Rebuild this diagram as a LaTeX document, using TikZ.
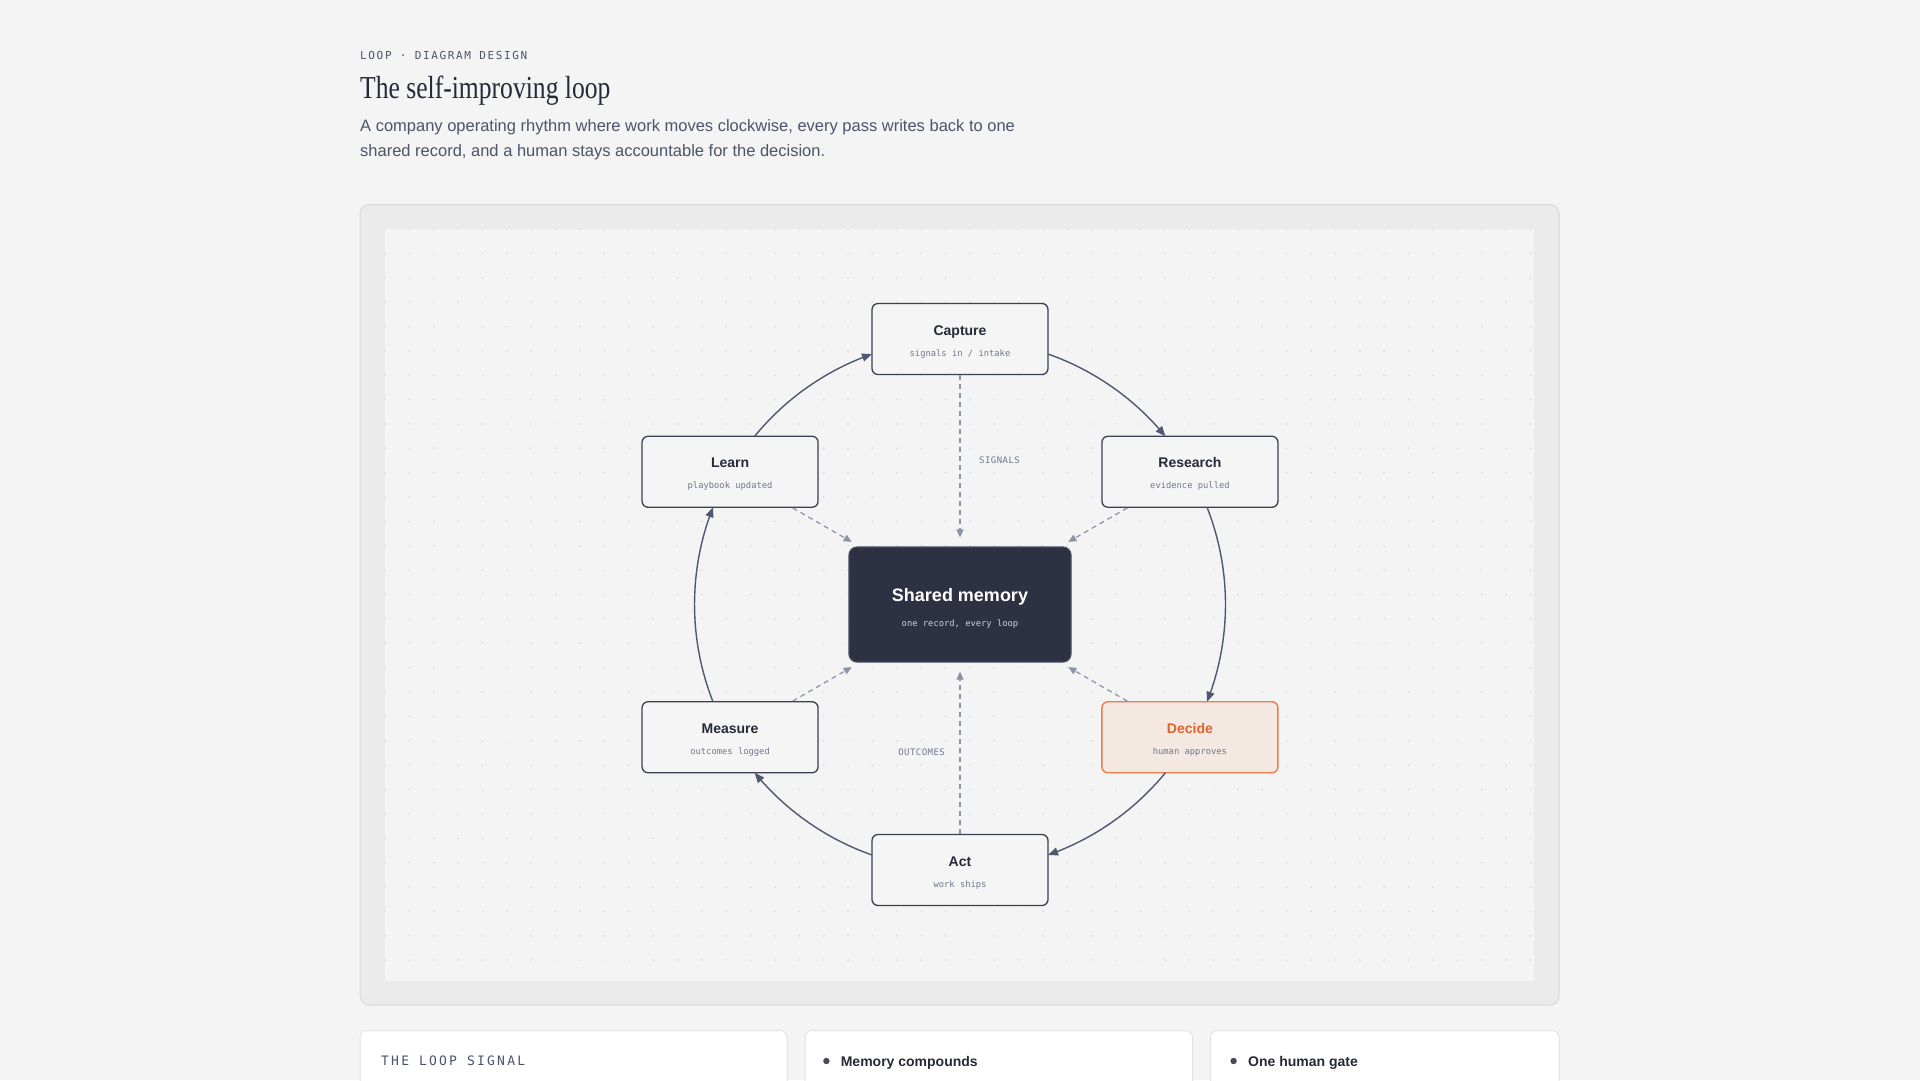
\documentclass[tikz,border=0pt]{standalone}
\usepackage{fontspec}
\setmainfont{Liberation Sans}
\newfontfamily\monof{DejaVu Sans Mono}
\newfontfamily\monokick[LetterSpace=15]{DejaVu Sans Mono}
\newfontfamily\monowide[LetterSpace=17]{DejaVu Sans Mono}
\newfontfamily\monolab[LetterSpace=5]{DejaVu Sans Mono}
\newfontfamily\serift[FakeStretch=0.8]{Liberation Serif}
\usetikzlibrary{arrows.meta,bending}
\definecolor{pagebg}{HTML}{F4F4F4}
\definecolor{panelc}{HTML}{EBEBEB}
\definecolor{panelline}{HTML}{D9D9D9}
\definecolor{innerc}{HTML}{F4F4F4}
\definecolor{dotc}{HTML}{E0E0E3}
\definecolor{ink}{HTML}{262A38}
\definecolor{slate}{HTML}{4B5468}
\definecolor{subc}{HTML}{6E778C}
\definecolor{boxline}{HTML}{3B4050}
\definecolor{boxfill}{HTML}{F5F5F6}
\definecolor{flowc}{HTML}{4E5870}
\definecolor{spokec}{HTML}{8A92A5}
\definecolor{memfill}{HTML}{2E3142}
\definecolor{memline}{HTML}{474C5E}
\definecolor{memsub}{HTML}{CDD0DA}
\definecolor{decfill}{HTML}{F4E8E2}
\definecolor{decline}{HTML}{EE7B4A}
\definecolor{dectext}{HTML}{E5622B}
\definecolor{cardline}{HTML}{E3E3E3}
\begin{document}
\begin{tikzpicture}[x=1pt,y=-1pt,
  box/.style={draw=boxline, line width=1.3pt, fill=boxfill, rounded corners=6pt,
    minimum width=176pt, minimum height=71pt, inner sep=0pt},
  ttl/.style={anchor=base, inner sep=0pt, text=ink,
    font=\fontsize{14}{16}\selectfont\bfseries},
  sub/.style={anchor=base, inner sep=0pt, text=subc,
    font=\monof\fontsize{8.8}{10}\selectfont},
  flow/.style={draw=flowc, line width=1.4pt, -{Triangle[length=10pt,width=8pt]}},
  spoke/.style={draw=spokec, line width=1.2pt, dash pattern=on 5pt off 4pt,
    -{Triangle[length=8pt,width=7pt]}, shorten >=9pt},
  lab/.style={inner sep=0pt, text=subc, font=\monolab\fontsize{9}{10}\selectfont},
  card/.style={draw=cardline, fill=white, line width=1pt, rounded corners=7pt},
  bullet/.style={circle, fill=ink!85, inner sep=0pt, minimum size=6.4pt},
]
\useasboundingbox (0,0) rectangle (1920,1080);
\fill[pagebg] (0,0) rectangle (1920,1080);

% header
\node[anchor=base west, inner sep=0pt, text=slate, font=\monokick\fontsize{11}{12}\selectfont]
  (kicker) at (360,59) {LOOP · DIAGRAM DESIGN};
\node[anchor=base west, inner sep=0pt, text=ink, font=\serift\fontsize{32}{36}\selectfont]
  (title) at (360,98) {The self-improving loop};
\node[anchor=base west, inner sep=0pt, text=slate, font=\fontsize{16.5}{18}\selectfont]
  (desc1) at (360,131.5) {A company operating rhythm where work moves clockwise, every pass writes back to one};
\node[anchor=base west, inner sep=0pt, text=slate, font=\fontsize{16.5}{18}\selectfont]
  (desc2) at (360,156.5) {shared record, and a human stays accountable for the decision.};

% panel
\draw[fill=panelc, draw=panelline, line width=1pt, rounded corners=9pt]
  (360,204.5) rectangle (1559,1005);
\fill[innerc] (385,229) rectangle (1534,981);
\foreach \i in {0,...,47}{
  \foreach \j in {0,...,30}{
    \fill[dotc] (385+24.37*\i, 229+24.37*\j) circle[radius=1.1];
  }
}

% hub
\node[draw=memline, line width=1.2pt, fill=memfill, rounded corners=8pt,
  minimum width=222pt, minimum height=115pt, inner sep=0pt] (mem) at (960,604.5) {};
\node[anchor=base, inner sep=0pt, text=white, font=\fontsize{18}{20}\selectfont\bfseries]
  (mem-t) at ([yshift=2.8pt]mem.center) {Shared memory};
\node[anchor=base, inner sep=0pt, text=memsub, font=\monof\fontsize{8.8}{10}\selectfont]
  (mem-s) at ([yshift=-22pt]mem.center) {one record, every loop};

% stage boxes
\node[box] (capture)  at ([shift={(-90:265.5)}]mem.center) {};
\node[box] (research) at ([shift={(-30:265.5)}]mem.center) {};
\node[box, draw=decline, fill=decfill, line width=1.4pt] (decide) at ([shift={(30:265.5)}]mem.center) {};
\node[box] (act)      at ([shift={(90:265.5)}]mem.center) {};
\node[box] (measure)  at ([shift={(150:265.5)}]mem.center) {};
\node[box] (learn)    at ([shift={(210:265.5)}]mem.center) {};

\node[ttl] (capture-t) at ([yshift=3.8pt]capture.center) {Capture};
\node[sub] (capture-s) at ([yshift=-17.2pt]capture.center) {signals in / intake};
\node[ttl] (research-t) at ([yshift=3.8pt]research.center) {Research};
\node[sub] (research-s) at ([yshift=-17.2pt]research.center) {evidence pulled};
\node[ttl, text=dectext] (decide-t) at ([yshift=3.8pt]decide.center) {Decide};
\node[sub] (decide-s) at ([yshift=-17.2pt]decide.center) {human approves};
\node[ttl] (act-t) at ([yshift=3.8pt]act.center) {Act};
\node[sub] (act-s) at ([yshift=-17.2pt]act.center) {work ships};
\node[ttl] (measure-t) at ([yshift=3.8pt]measure.center) {Measure};
\node[sub] (measure-s) at ([yshift=-17.2pt]measure.center) {outcomes logged};
\node[ttl] (learn-t) at ([yshift=3.8pt]learn.center) {Learn};
\node[sub] (learn-s) at ([yshift=-17.2pt]learn.center) {playbook updated};

% clockwise loop (arcs on the ring through the stage centres)
\draw[flow] ([shift={(-70.64:265.5)}]mem.center) arc[start angle=-70.64, end angle=-39.32, radius=265.5];
\draw[flow] ([shift={(-21.49:265.5)}]mem.center) arc[start angle=-21.49, end angle=21.49, radius=265.5];
\draw[flow] ([shift={(39.32:265.5)}]mem.center) arc[start angle=39.32, end angle=70.64, radius=265.5];
\draw[flow] ([shift={(109.36:265.5)}]mem.center) arc[start angle=109.36, end angle=140.68, radius=265.5];
\draw[flow] ([shift={(158.51:265.5)}]mem.center) arc[start angle=158.51, end angle=201.49, radius=265.5];
\draw[flow] ([shift={(219.32:265.5)}]mem.center) arc[start angle=219.32, end angle=250.64, radius=265.5];

% write-backs to shared memory
\draw[spoke] (capture) -- (mem);
\draw[spoke] (research) -- (mem);
\draw[spoke] (decide) -- (mem);
\draw[spoke] (act) -- (mem);
\draw[spoke] (measure) -- (mem);
\draw[spoke] (learn) -- (mem);
\node[lab, anchor=base west] (signals) at (979,463.4) {SIGNALS};
\node[lab, anchor=base east] (outcomes) at (945,755.2) {OUTCOMES};

% bottom cards
\begin{scope}
\clip (0,0) rectangle (1920,1080);
\draw[card] (360,1030.5) rectangle (787,1110);
\draw[card] (805,1030.5) rectangle (1192.5,1110);
\draw[card] (1210.5,1030.5) rectangle (1559,1110);
\end{scope}
\node[anchor=base west, inner sep=0pt, text=slate, font=\monowide\fontsize{13}{14}\selectfont]
  (sig) at (381,1065.4) {THE LOOP SIGNAL};
\node[bullet] (b1) at (826.4,1061) {};
\node[anchor=base west, inner sep=0pt, text=ink, font=\fontsize{14}{16}\selectfont\bfseries]
  (memc) at (840.6,1066) {Memory compounds};
\node[bullet] (b2) at (1233.6,1061) {};
\node[anchor=base west, inner sep=0pt, text=ink, font=\fontsize{14}{16}\selectfont\bfseries]
  (gate) at (1248,1066) {One human gate};
\end{tikzpicture}
\end{document}
